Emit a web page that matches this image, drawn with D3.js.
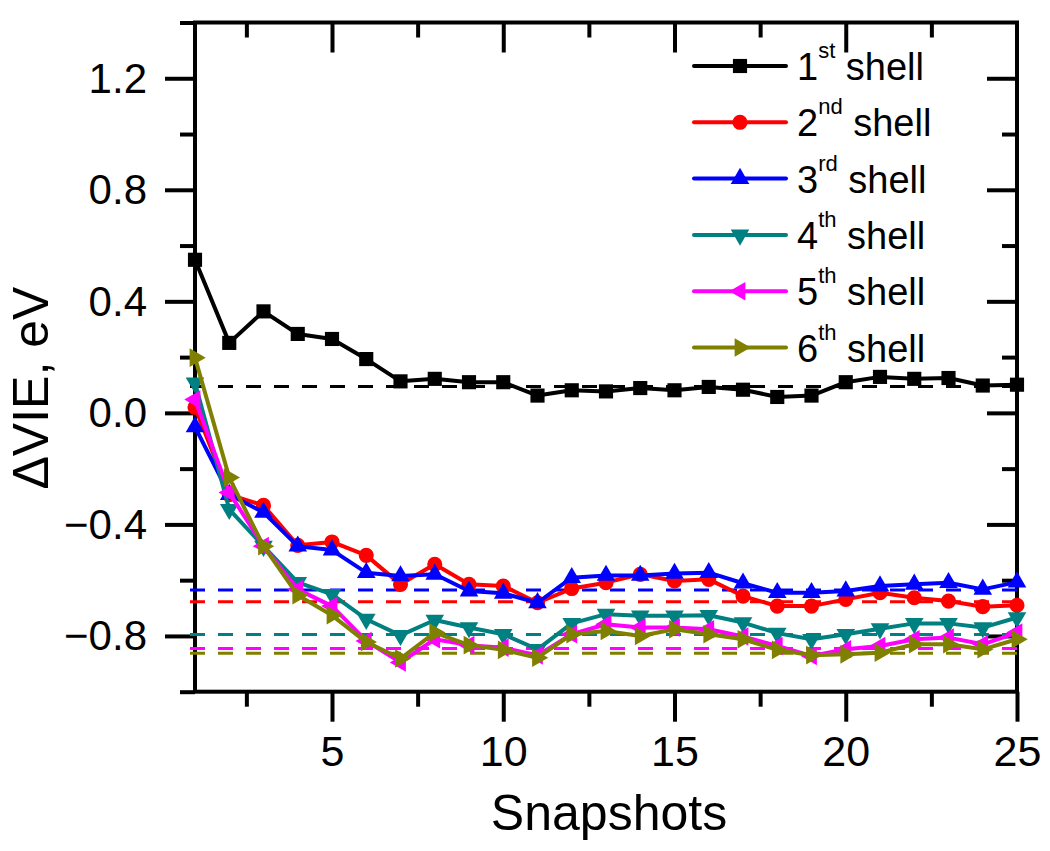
<!DOCTYPE html>
<html>
<head>
<meta charset="utf-8">
<script src="https://cdn.jsdelivr.net/npm/d3@7"></script>
<style>
  html, body { margin: 0; padding: 0; background: #fff; }
  svg { display: block; font-family: "Liberation Sans", Arial, sans-serif; }
</style>
</head>
<body>
<svg id="chart" width="1050" height="851"></svg>
<script>
// ---- data ----
const snapshots = d3.range(1, 26);
const shell1 = [0.549, 0.251, 0.364, 0.283, 0.265, 0.193, 0.113, 0.122, 0.110, 0.110, 0.062, 0.081, 0.077, 0.089, 0.081, 0.093, 0.083, 0.057, 0.062, 0.110, 0.129, 0.122, 0.125, 0.098, 0.101];
const shell2 = [0.020, -0.293, -0.332, -0.475, -0.463, -0.511, -0.615, -0.543, -0.615, -0.621, -0.681, -0.630, -0.609, -0.579, -0.603, -0.597, -0.657, -0.693, -0.693, -0.669, -0.645, -0.663, -0.675, -0.695, -0.690];
const shell3 = [-0.050, -0.293, -0.357, -0.478, -0.492, -0.573, -0.585, -0.579, -0.639, -0.647, -0.681, -0.591, -0.583, -0.583, -0.576, -0.573, -0.611, -0.645, -0.645, -0.639, -0.621, -0.615, -0.609, -0.633, -0.607];
const shell4 = [0.108, -0.346, -0.478, -0.608, -0.651, -0.740, -0.798, -0.743, -0.770, -0.794, -0.848, -0.755, -0.722, -0.728, -0.728, -0.726, -0.752, -0.790, -0.812, -0.794, -0.774, -0.755, -0.755, -0.770, -0.734];
const shell5 = [0.048, -0.286, -0.478, -0.633, -0.693, -0.818, -0.895, -0.812, -0.833, -0.842, -0.870, -0.794, -0.758, -0.770, -0.770, -0.776, -0.802, -0.836, -0.872, -0.848, -0.836, -0.812, -0.806, -0.830, -0.788];
const shell6 = [0.198, -0.232, -0.478, -0.654, -0.726, -0.822, -0.881, -0.788, -0.833, -0.850, -0.878, -0.794, -0.782, -0.800, -0.776, -0.794, -0.812, -0.850, -0.869, -0.866, -0.860, -0.830, -0.830, -0.848, -0.812];
const averages = [0.095, -0.677, -0.635, -0.795, -0.845, -0.862];
const ordinals = ["1", "2", "3", "4", "5", "6"];
const suffixes = ["st", "nd", "rd", "th", "th", "th"];
const colors = ["#000000", "#ff0000", "#0000ff", "#008080", "#ff00ff", "#808000"];
const xMajorTicks = [5, 10, 15, 20, 25];
const xMinorTicks = [2.5, 7.5, 12.5, 17.5, 22.5];
const yMajorTicks = [-0.8, -0.4, 0.0, 0.4, 0.8, 1.2];
const yMinorTicks = [-1.0, -0.6, -0.2, 0.2, 0.6, 1.0, 1.4];
const xTitle = "Snapshots";
const yTitle = "ΔVIE, eV";

const seriesValues = [shell1, shell2, shell3, shell4, shell5, shell6];
// marker: type and rotation
const markerTypes = [
  {sym: d3.symbolSquare, size: 200, rot: 0},
  {sym: d3.symbolCircle, size: 180, rot: 0},
  {sym: d3.symbolTriangle, size: 150, rot: 0},
  {sym: d3.symbolTriangle, size: 150, rot: 180},
  {sym: d3.symbolTriangle, size: 150, rot: -90},
  {sym: d3.symbolTriangle, size: 150, rot: 90}
];

// ---- layout ----
const svg = d3.select("#chart");
const L = 195, R = 1017, T = 22.5, B = 691.7;
const x = d3.scaleLinear().domain([1, 25]).range([L, R]);
const y = d3.scaleLinear().domain([-1.0, 1.4]).range([B, T]);
const fmtY = d3.format(".1f");

function styleAxis(g) {
  g.select(".domain").remove();
  g.selectAll(".tick line").attr("stroke", "#000").attr("stroke-width", 4);
  g.selectAll(".tick text").attr("fill", "#000").attr("font-family", '"Liberation Sans", Arial, sans-serif');
}

// bottom axis (outward ticks)
svg.append("g").attr("transform", `translate(0,${B})`)
  .call(d3.axisBottom(x).tickValues(xMinorTicks).tickSize(15).tickFormat(""))
  .call(styleAxis);
svg.append("g").attr("transform", `translate(0,${B})`)
  .call(d3.axisBottom(x).tickValues(xMajorTicks).tickSize(30).tickPadding(14).tickFormat(d3.format("d")))
  .call(styleAxis)
  .call(g => g.selectAll(".tick text").attr("font-size", 43).attr("dy", "0.71em"));
// top axis (inward ticks)
svg.append("g").attr("transform", `translate(0,${T})`)
  .call(d3.axisTop(x).tickValues(xMinorTicks).tickSize(-15).tickFormat(""))
  .call(styleAxis);
svg.append("g").attr("transform", `translate(0,${T})`)
  .call(d3.axisTop(x).tickValues(xMajorTicks.filter(v => v < 25)).tickSize(-30).tickFormat(""))
  .call(styleAxis);
// left axis (outward ticks)
svg.append("g").attr("transform", `translate(${L},0)`)
  .call(d3.axisLeft(y).tickValues(yMinorTicks).tickSize(15).tickFormat(""))
  .call(styleAxis);
svg.append("g").attr("transform", `translate(${L},0)`)
  .call(d3.axisLeft(y).tickValues(yMajorTicks).tickSize(30).tickPadding(18).tickFormat(fmtY))
  .call(styleAxis)
  .call(g => g.selectAll(".tick text").attr("font-size", 42).attr("dy", "0.33em"));
// right axis (inward ticks)
svg.append("g").attr("transform", `translate(${R},0)`)
  .call(d3.axisRight(y).tickValues(yMinorTicks.filter(v => v > -1 && v < 1.4)).tickSize(-15).tickFormat(""))
  .call(styleAxis);
svg.append("g").attr("transform", `translate(${R},0)`)
  .call(d3.axisRight(y).tickValues(yMajorTicks).tickSize(-30).tickFormat(""))
  .call(styleAxis);

// frame
svg.append("rect").attr("x", L).attr("y", T).attr("width", R - L).attr("height", B - T)
  .attr("fill", "none").attr("stroke", "#000").attr("stroke-width", 4);

// axis titles
svg.append("text").attr("x", (L + R) / 2 + 3).attr("y", 830)
  .attr("text-anchor", "middle").attr("font-size", 50).attr("fill", "#000").text(xTitle);
svg.append("text").attr("transform", `translate(48,${(T + B) / 2 + 31}) rotate(-90)`)
  .attr("text-anchor", "middle").attr("font-size", 50).attr("fill", "#000").text(yTitle);

// average dashed lines
const avgG = svg.append("g");
averages.forEach((v, i) => {
  avgG.append("line")
    .attr("x1", x(1) - 5).attr("x2", x(25))
    .attr("y1", y(v)).attr("y2", y(v))
    .attr("stroke", colors[i]).attr("stroke-width", 3)
    .attr("stroke-dasharray", "15,13");
});

// series
const line = d3.line().x((d, i) => x(snapshots[i])).y(d => y(d));
seriesValues.forEach((vals, si) => {
  const g = svg.append("g");
  g.append("path").datum(vals).attr("d", line)
    .attr("fill", "none").attr("stroke", colors[si]).attr("stroke-width", 4)
    .attr("stroke-linejoin", "round");
  const m = markerTypes[si];
  const sym = d3.symbol().type(m.sym).size(m.size);
  g.selectAll("path.mk").data(vals).enter().append("path").attr("class", "mk")
    .attr("d", sym)
    .attr("transform", (d, i) => `translate(${x(snapshots[i])},${y(d)}) rotate(${m.rot})`)
    .attr("fill", colors[si]);
});

// legend
const legend = svg.append("g");
const rowY0 = 66, rowDY = 56.3;
ordinals.forEach((o, i) => {
  const ry = rowY0 + i * rowDY;
  legend.append("line").attr("x1", 694).attr("x2", 786).attr("y1", ry).attr("y2", ry)
    .attr("stroke", colors[i]).attr("stroke-width", 4).attr("stroke-linecap", "round");
  const m = markerTypes[i];
  legend.append("path").attr("d", d3.symbol().type(m.sym).size(m.size)())
    .attr("transform", `translate(740,${ry}) rotate(${m.rot})`).attr("fill", colors[i]);
  const t = legend.append("text").attr("x", 797).attr("y", ry + 14).attr("font-size", 38).attr("fill", "#000");
  t.append("tspan").text(o);
  t.append("tspan").attr("font-size", 22).attr("dy", -22).text(suffixes[i]);
  t.append("tspan").attr("font-size", 38).attr("dy", 22).text("\u00a0shell");
});
</script>
</body>
</html>
